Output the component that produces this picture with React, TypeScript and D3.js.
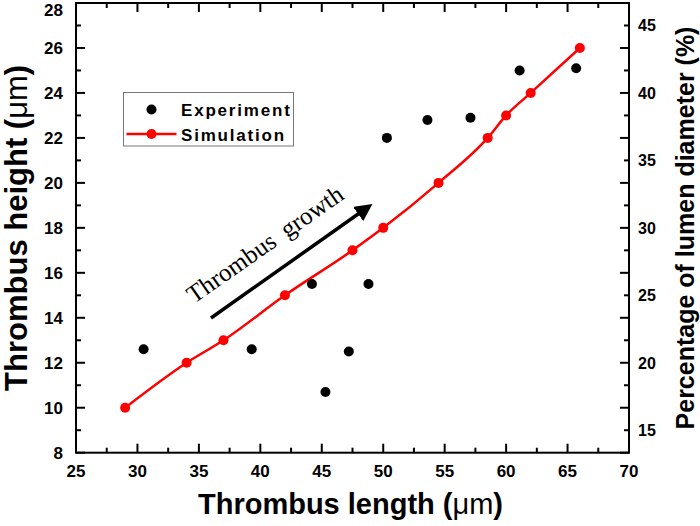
import * as d3 from "d3";
import { useEffect, useRef } from "react";

// Experiment: thrombus length (um) vs height (um)
const expLength = [30.5, 39.3, 44.2, 45.3, 47.2, 48.8, 50.3, 53.6, 57.1, 61.1, 65.7];
const expHeight = [12.6, 12.6, 15.5, 10.7, 12.5, 15.5, 22.0, 22.8, 22.9, 25.0, 25.1];

// Simulation
const simLength = [29, 34, 37, 42, 47.5, 50, 54.5, 58.5, 60, 62, 66];
const simHeight = [10, 12, 13, 15, 17, 18, 20, 22, 23, 24, 26];

const xTicks = [25, 30, 35, 40, 45, 50, 55, 60, 65, 70];
const yTicks = [8, 10, 12, 14, 16, 18, 20, 22, 24, 26, 28];
const pctTicks = [15, 20, 25, 30, 35, 40, 45];
const lumenDiameter = 60; // um, right axis = height / diameter

export default function App() {
  const ref = useRef<SVGSVGElement>(null);

  useEffect(() => {
    if (!ref.current) return;
    const svg = d3.select(ref.current);
    svg.selectAll("*").remove();

    const width = 700;
    const height = 526;
    const m = { left: 76, right: 629, top: 3, bottom: 452.7 };

    svg.attr("width", width).attr("height", height);
    svg.append("rect").attr("width", width).attr("height", height).attr("fill", "#fff");

    const x = d3.scaleLinear().domain([25, 70]).range([m.left, m.right]);
    const y = d3.scaleLinear().domain([8, 28]).range([m.bottom, m.top]);
    const yPct = d3
      .scaleLinear()
      .domain([(8 / lumenDiameter) * 100, (28 / lumenDiameter) * 100])
      .range([m.bottom, m.top]);

    const font = "Liberation Sans, Arial, sans-serif";

    // ticks (all inward)
    const minorX = d3.range(27.5, 70, 5);
    const minorY = d3.range(9, 28, 2);
    const tickG = svg.append("g").attr("stroke", "#000").attr("stroke-width", 2);
    const vt = (v: number, len: number) => {
      tickG.append("line").attr("x1", x(v)).attr("x2", x(v)).attr("y1", m.bottom).attr("y2", m.bottom - len);
      tickG.append("line").attr("x1", x(v)).attr("x2", x(v)).attr("y1", m.top).attr("y2", m.top + len);
    };
    const ht = (v: number, len: number) => {
      tickG.append("line").attr("x1", m.left).attr("x2", m.left + len).attr("y1", y(v)).attr("y2", y(v));
      tickG.append("line").attr("x1", m.right).attr("x2", m.right - len).attr("y1", y(v)).attr("y2", y(v));
    };
    xTicks.forEach((v) => vt(v, 9));
    minorX.forEach((v) => vt(v, 5));
    yTicks.forEach((v) => ht(v, 9));
    minorY.forEach((v) => ht(v, 5));

    svg
      .append("rect")
      .attr("x", m.left)
      .attr("y", m.top)
      .attr("width", m.right - m.left)
      .attr("height", m.bottom - m.top)
      .attr("fill", "none")
      .attr("stroke", "#000")
      .attr("stroke-width", 2);

    // tick labels
    svg
      .append("g")
      .selectAll("text")
      .data(xTicks)
      .join("text")
      .attr("x", (d) => x(d))
      .attr("y", m.bottom + 24)
      .attr("text-anchor", "middle")
      .attr("font-family", font)
      .attr("font-weight", "bold")
      .attr("font-size", 17)
      .text((d) => d);

    svg
      .append("g")
      .selectAll("text")
      .data(yTicks)
      .join("text")
      .attr("x", m.left - 13)
      .attr("y", (d) => Math.max(y(d) + 6, 16))
      .attr("text-anchor", "end")
      .attr("font-family", font)
      .attr("font-weight", "bold")
      .attr("font-size", 17)
      .text((d) => d);

    svg
      .append("g")
      .selectAll("text")
      .data(pctTicks)
      .join("text")
      .attr("x", m.right + 9)
      .attr("y", (d) => yPct(d) + 6)
      .attr("font-family", font)
      .attr("font-size", 16)
      .attr("font-weight", "bold")
      .text((d) => d);

    // axis titles
    const title = (
      t: d3.Selection<SVGTextElement, unknown, null, undefined>,
      main: string,
      size: number
    ) => {
      t.attr("font-family", font).attr("font-weight", "bold").attr("font-size", size).attr("text-anchor", "middle");
      t.append("tspan").text(main + " (");
      t.append("tspan").attr("font-weight", "normal").text("\u03bcm");
      t.append("tspan").text(")");
    };
    title(svg.append("text").attr("x", (m.left + m.right) / 2 - 2).attr("y", 514), "Thrombus length", 29);
    title(
      svg
        .append("text")
        .attr("transform", `translate(27,${(m.top + m.bottom) / 2}) rotate(-90)`),
      "Thrombus height",
      31
    );
    svg
      .append("text")
      .attr("transform", "translate(694,228) rotate(-90)")
      .attr("text-anchor", "middle")
      .attr("font-family", font)
      .attr("font-weight", "bold")
      .attr("font-size", 25)
      .text("Percentage of lumen diameter (%)");

    // simulation line
    const sim = simLength.map((v, i) => [v, simHeight[i]] as [number, number]);
    const line = d3
      .line<[number, number]>()
      .x((d) => x(d[0]))
      .y((d) => y(d[1]))
      .curve(d3.curveMonotoneX);
    svg
      .append("path")
      .attr("d", line(sim))
      .attr("fill", "none")
      .attr("stroke", "#ff0000")
      .attr("stroke-width", 2.5);
    svg
      .append("g")
      .selectAll("circle")
      .data(sim)
      .join("circle")
      .attr("cx", (d) => x(d[0]))
      .attr("cy", (d) => y(d[1]))
      .attr("r", 5)
      .attr("fill", "#ff0000");

    // experiment points
    svg
      .append("g")
      .selectAll("circle")
      .data(expLength.map((v, i) => [v, expHeight[i]]))
      .join("circle")
      .attr("cx", (d) => x(d[0]))
      .attr("cy", (d) => y(d[1]))
      .attr("r", 5)
      .attr("fill", "#000");

    // legend
    const lg = svg.append("g").attr("transform", "translate(123.5,92.5)");
    lg.append("rect")
      .attr("width", 170)
      .attr("height", 53.5)
      .attr("fill", "#fff")
      .attr("stroke", "#777")
      .attr("stroke-width", 1);
    lg.append("circle").attr("cx", 28).attr("cy", 17).attr("r", 5).attr("fill", "#000");
    lg.append("line").attr("x1", 3).attr("x2", 53).attr("y1", 41.5).attr("y2", 41.5).attr("stroke", "#ff0000").attr("stroke-width", 2.5);
    lg.append("circle").attr("cx", 28).attr("cy", 41.5).attr("r", 5).attr("fill", "#ff0000");
    const lt = (ty: number, s: string) =>
      lg
        .append("text")
        .attr("x", 57.5)
        .attr("y", ty)
        .attr("font-family", font)
        .attr("font-weight", "bold")
        .attr("font-size", 17)
        .attr("letter-spacing", 1.8)
        .text(s);
    lt(23, "Experiment");
    lt(48, "Simulation");

    // annotation arrow
    const defs = svg.append("defs");
    defs
      .append("marker")
      .attr("id", "head")
      .attr("viewBox", "0 0 10 10")
      .attr("refX", 2)
      .attr("refY", 5)
      .attr("markerWidth", 5)
      .attr("markerHeight", 5)
      .attr("orient", "auto")
      .append("path")
      .attr("d", "M0,0 L10,5 L0,10 Z")
      .attr("fill", "#000");
    svg
      .append("line")
      .attr("x1", 211)
      .attr("y1", 318)
      .attr("x2", 361)
      .attr("y2", 212)
      .attr("stroke", "#000")
      .attr("stroke-width", 3.5)
      .attr("marker-end", "url(#head)");
    svg
      .append("text")
      .attr("transform", "translate(194,304) rotate(-35)")
      .attr("font-family", "Liberation Serif, Times New Roman, serif")
      .attr("font-size", 25)
      .attr("word-spacing", 5)
      .text("Thrombus growth");
  }, []);

  return (
    <div style={{ position: "absolute", left: 0, top: 0 }}>
      <svg ref={ref} />
    </div>
  );
}
